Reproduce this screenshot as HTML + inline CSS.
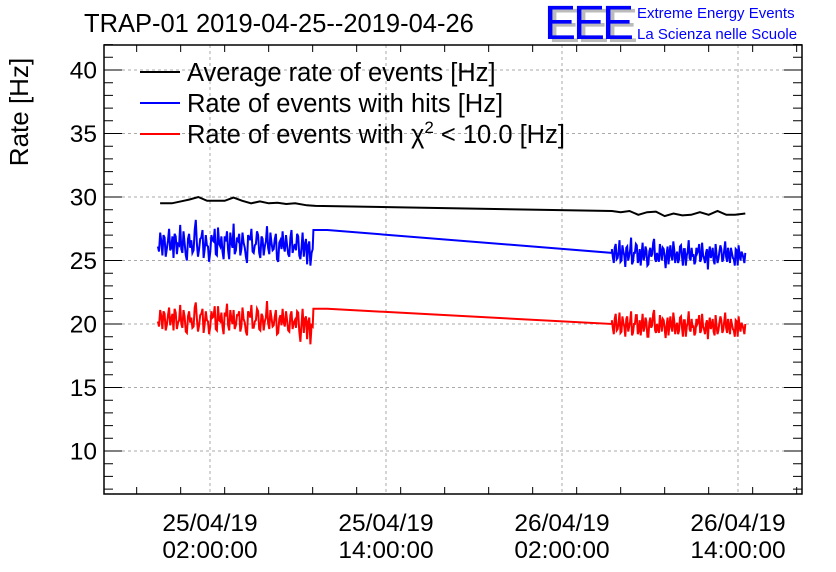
<!DOCTYPE html>
<html><head><meta charset="utf-8"><style>
body{margin:0;background:#fff;}
svg{display:block;font-family:"Liberation Sans",sans-serif;}
</style></head><body>
<svg id="chart" width="836" height="572" viewBox="0 0 836 572">
<text x="84" y="32" font-size="25.5">TRAP-01 2019-04-25--2019-04-26</text>
<g>
<text x="548" y="42" font-size="48" fill="#bbb" letter-spacing="-3">EEE</text>
<text x="544" y="39" font-size="48" fill="#0000ff" letter-spacing="-3">EEE</text>
<text x="637" y="18" font-size="15" fill="#0000ff">Extreme Energy Events</text>
<text x="637" y="39" font-size="15" fill="#0000ff">La Scienza nelle Scuole</text>
</g>
<text transform="translate(28,112) rotate(-90)" font-size="26" text-anchor="middle">Rate [Hz]</text>
<g id="grid"></g>
<g id="axes"></g>
<g id="series"></g>
<g>
<g><line x1="140" y1="72" x2="180" y2="72" stroke="#000" stroke-width="2"/><text x="187" y="81" font-size="25.5">Average rate of events [Hz]</text></g>
<g><line x1="140" y1="103" x2="180" y2="103" stroke="#00f" stroke-width="2"/><text x="187" y="112" font-size="25.5">Rate of events with hits [Hz]</text></g>
<g><line x1="140" y1="134" x2="180" y2="134" stroke="#f00" stroke-width="2"/><text x="187" y="143" font-size="25.5">Rate of events with χ<tspan dy="-10" font-size="17">2</tspan><tspan dy="10"> &lt; 10.0 [Hz]</tspan></text></g>
</g>
</svg>
<script>
// hours relative to 2019-04-25 00:00
const yTicks=[10,15,20,25,30,35,40];
const xTickHours=[2,14,26,38];
const xTickDates=["25/04/19","25/04/19","26/04/19","26/04/19"];
const xTickTimes=["02:00:00","14:00:00","02:00:00","14:00:00"];
const seg1Start=-1.55, seg1End=9.0, seg2Start=29.4, seg2End=38.5;
const avgHours=[-1.4,-0.6,0.2,0.6,1.2,1.8,2.4,3.0,3.6,4.2,4.8,5.4,6.0,6.6,7.2,7.8,8.6,9.2,29.4,30.0,30.6,31.2,31.8,32.4,33.0,33.6,34.2,34.8,35.4,36.0,36.6,37.2,37.8,38.5];
const avgValues=[29.5,29.5,29.7,29.8,30.0,29.7,29.7,29.7,29.95,29.7,29.5,29.65,29.5,29.55,29.45,29.5,29.35,29.3,28.9,28.8,28.9,28.6,28.8,28.85,28.5,28.7,28.55,28.6,28.8,28.6,28.9,28.6,28.6,28.7];
const hitsSeg1a=[26.1,27.2,25.4,26.8,25.9,27.5,26.0,25.2,26.9,26.3,27.8,25.6,26.4,25.0,27.1,26.6,25.8,28.2,25.3,26.7,27.4,25.9,26.2,24.9,27.0,26.5,25.5,27.6,26.1,25.7,26.9,27.3,25.1,26.4,27.9,25.8,26.6,25.4,27.2,26.0,24.8,26.8,27.5,25.6,26.3,27.0,25.2,26.7,26.1,27.7,25.5,26.4,25.9,27.1,24.9,26.6,27.3,25.7,26.2,25.3,27.4,26.0,25.8,26.9,25.1,27.2,26.3,24.7,26.5,25.6];
const hitsSeg1b=[25.7,26.5,27.0,25.3,26.6,25.8,26.9,27.1,25.5,26.2,25.9,27.3,25.4,26.7,26.0,25.6,27.4,26.3,25.9,26.8,25.2,27.0,26.1,25.7,26.6,27.5,25.4,26.3,26.9,25.1,26.5,25.8,27.2,26.0,25.5,26.8,27.1,25.9,26.4,25.3,27.0,26.6,25.7,26.2,27.3,25.6,26.9,25.4,26.5,26.0,27.2,25.8,26.7,25.1,26.4,25.9,26.1,27.0,25.5,26.8,25.6,26.3,27.1,25.4,26.0,25.3,26.7,26.2,24.6,25.9];
const hitsJump=[27.4,27.4];
const hitsSeg2a=[25.9,24.8,26.3,25.2,26.6,25.0,25.7,24.5,26.1,25.4,26.8,24.9,25.6,26.2,25.1,24.6,26.4,25.3,25.8,24.7,26.0,25.5,26.7,24.9,25.2,26.3,25.0,25.9,24.4,26.1,25.6,25.3,26.5,24.8,25.7,25.1,26.2,24.6,25.9,25.4,26.6,25.0,25.3,24.7,26.0,25.8,24.9,26.4,25.2,25.6,24.3,26.1,25.5,25.0,26.3,24.8,25.7,25.9,25.1,26.5,24.9,25.4,26.0,25.2,24.6,25.8,26.2,25.0,25.5,24.8];
const hitsSeg2b=[25.3,26.0,25.1,25.7,24.9,26.2,25.4,26.0,25.0,25.8,24.7,25.6,26.3,24.8,25.9,25.5,25.0,26.1,24.6,25.7,25.3,26.4,25.1,25.6,24.9,25.8,26.0,25.2,25.5,24.7,26.2,25.0,25.8,25.4,24.8,26.1,25.3,25.9,24.6,25.7,25.2,26.0,25.5,24.9,25.6,26.3,25.1,25.4,24.8,25.9,25.6,25.2,26.0,24.7,25.5,25.1,26.2,24.9,25.8,25.3,26.0,24.8,25.6,25.1,25.9,24.6,25.4,25.7,25.2,25.6];
const chiSeg1a=[20.2,21.1,19.6,20.8,19.9,21.3,20.4,19.5,20.9,20.1,21.5,19.7,20.6,19.3,21.0,20.5,19.8,21.7,19.4,20.7,21.2,20.0,20.3,19.2,21.0,20.6,19.6,21.4,20.2,19.8,20.9,21.6,19.5,20.4,21.1,19.9,20.7,19.4,21.3,20.1,19.1,20.8,21.5,19.7,20.3,21.0,19.5,20.6,20.2,21.8,19.6,20.5,19.9,21.1,19.3,20.7,21.2,19.8,20.3,19.4,21.0,20.1,19.7,20.9,18.6,21.2,20.4,18.8,20.5,19.9];
const chiSeg1b=[19.8,20.6,21.0,19.5,20.7,19.9,20.8,21.2,19.6,20.3,20.0,21.1,19.4,20.6,20.1,19.7,21.3,20.4,19.9,20.8,19.3,21.0,20.2,19.8,20.5,21.4,19.5,20.3,20.9,19.2,20.6,19.9,21.1,20.0,19.6,20.7,21.0,19.8,20.4,19.4,21.0,20.5,19.7,20.2,21.2,19.6,20.8,19.5,20.5,20.1,21.1,19.8,20.6,19.2,20.4,19.9,20.1,21.0,19.5,20.7,19.6,20.3,21.0,19.4,20.0,19.3,20.6,20.2,18.4,19.8];
const chiJump=[21.2,21.2];
const chiSeg2a=[20.3,19.2,20.8,19.6,20.9,19.4,20.1,19.0,20.6,19.8,21.0,19.3,20.0,20.7,19.5,19.1,20.8,19.7,20.2,19.0,20.5,19.9,21.1,19.3,19.6,20.7,19.4,20.3,18.9,20.5,20.0,19.7,20.9,19.2,20.1,19.5,20.6,19.0,20.3,19.8,21.0,19.4,19.7,19.1,20.4,20.2,19.3,20.8,19.6,20.0,18.8,20.5,19.9,19.4,20.7,19.2,20.1,20.3,19.5,20.9,19.3,19.8,20.4,19.6,19.0,20.2,20.6,19.4,19.9,19.2];
const chiSeg2b=[19.7,20.4,19.5,20.1,19.3,20.6,19.8,20.4,19.4,20.2,19.1,20.0,20.7,19.2,20.3,19.9,19.4,20.5,19.0,20.1,19.7,20.8,19.5,20.0,19.3,20.2,20.4,19.6,19.9,19.1,20.6,19.4,20.2,19.8,19.2,20.5,19.7,20.3,19.0,20.1,19.6,20.4,19.9,19.3,20.0,20.7,19.5,19.8,19.2,20.3,20.0,19.6,20.4,19.1,19.9,19.5,20.6,19.3,20.2,19.7,20.4,19.2,20.0,19.5,20.3,19.0,19.8,20.1,19.6,20.0];

const L=104,R=802,T=45,B=494;
const xs=h=>210+(h-2)*176/12;
function ysf(v){return 451+(v-10)*(324-451)/10;}
const NS="http://www.w3.org/2000/svg";
function mk(p,tag,attrs){const e=document.createElementNS(NS,tag);for(const k in attrs)e.setAttribute(k,attrs[k]);p.appendChild(e);return e;}
const grid=document.getElementById('grid'),axes=document.getElementById('axes'),ser=document.getElementById('series');
yTicks.forEach(v=>{const y=ysf(v);
 const g=mk(grid,'line',{x1:L,x2:R,y1:y,y2:y,stroke:'#aaa','stroke-dasharray':'3,3','stroke-width':1});
 
 
 const t=mk(axes,'text',{x:97,y:y+8.5,'font-size':24.5,'text-anchor':'end'});t.textContent=v;
 
 
});
xTickHours.forEach((h,i)=>{const x=xs(h);
 const g=mk(grid,'line',{x1:x,x2:x,y1:T,y2:B,stroke:'#aaa','stroke-dasharray':'3,3','stroke-width':1});
 
 
 const t=mk(axes,'text',{x:x,y:531,'font-size':24.5,'text-anchor':'middle'});t.textContent=xTickDates[i];
 
 
 const t2=mk(axes,'text',{x:x,y:558,'font-size':24.5,'text-anchor':'middle'});t2.textContent=xTickTimes[i];
 
 
});
const fr=mk(axes,'rect',{x:L,y:T,width:R-L,height:B-T,fill:'none',stroke:'#000','stroke-width':1.5});


let d='';
for(let v=7;v<=42;v++){const y=ysf(v);const len=v%5==0?18:9;d+=`M${L},${y}h${len}M${R},${y}h${-len}`;}
for(let h=-3;h<=42;h+=3){const x=xs(h);if(x<L||x>R)continue;const len=(h-2)%12==0?14:7;d+=`M${x},${B}v${-len}M${x},${T}v${len}`;}
const tk=mk(axes,'path',{d:d,stroke:'#000','stroke-width':1,fill:'none'});



function merge(a,b){const out=[];for(let i=0;i<a.length;i++){out.push(a[i]);if(i<b.length)out.push(b[i]);}return out;}
function segPts(vals,h0,h1){const n=vals.length;return vals.map((v,i)=>[h0+(h1-h0)*i/(n-1),v]);}
function draw(pts,color,name){
 const p=mk(ser,'polyline',{points:pts.map(q=>xs(q[0]).toFixed(1)+','+ysf(q[1]).toFixed(1)).join(' '),fill:'none',stroke:color,'stroke-width':2,'stroke-linejoin':'miter'});
 
 
}
draw(avgHours.map((h,i)=>[h,avgValues[i]]),'#000','average-rate-line');
draw([...segPts(merge(hitsSeg1a,hitsSeg1b),seg1Start,seg1End),[seg1End+0.05,hitsJump[0]],[seg1End+1.0,hitsJump[1]],[seg2Start,hitsSeg2a[0]-0.3],...segPts(merge(hitsSeg2a,hitsSeg2b),seg2Start,seg2End)],'#00f','hits-rate-line');
draw([...segPts(merge(chiSeg1a,chiSeg1b),seg1Start,seg1End),[seg1End+0.05,chiJump[0]],[seg1End+1.0,chiJump[1]],[seg2Start,chiSeg2a[0]-0.3],...segPts(merge(chiSeg2a,chiSeg2b),seg2Start,seg2End)],'#f00','chi2-rate-line');
</script>
</body></html>
